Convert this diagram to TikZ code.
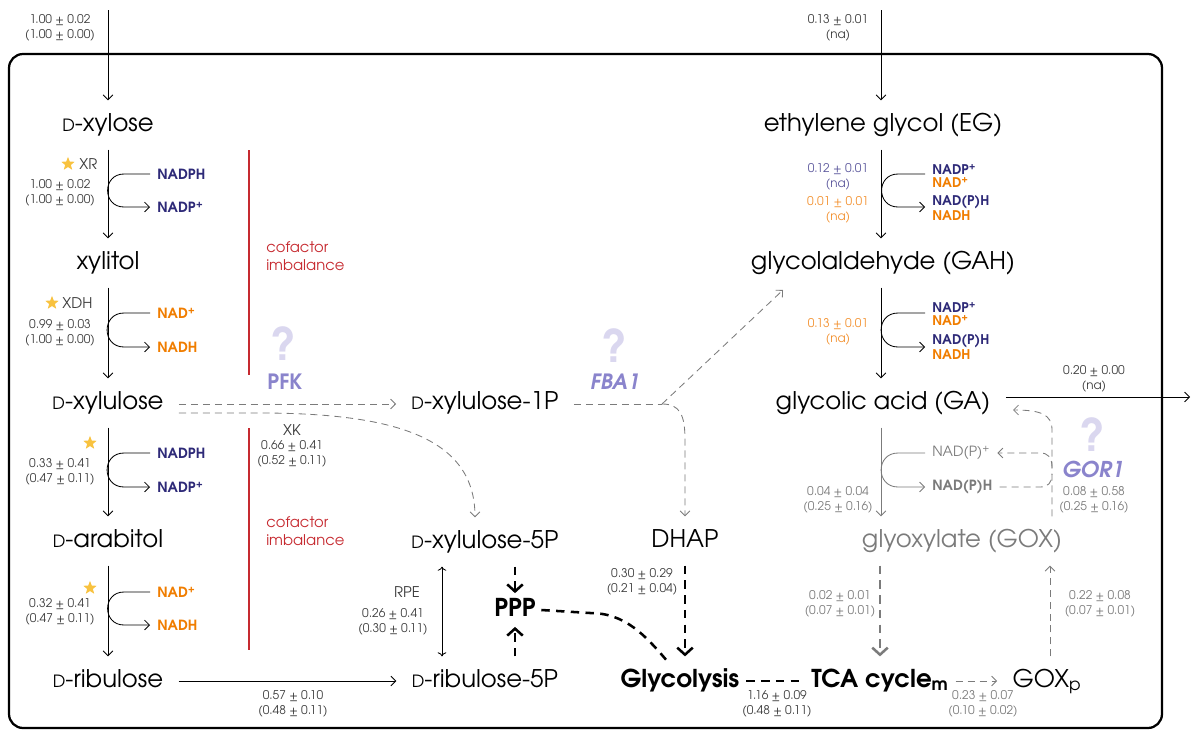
\documentclass[tikz,border=0pt]{standalone}
\usepackage{fontspec}
\setmainfont{TeX Gyre Adventor}
\usetikzlibrary{arrows.meta,shapes.geometric,calc}

\definecolor{navyc}{HTML}{2E2A78}
\definecolor{orangec}{HTML}{F07D00}
\definecolor{redc}{HTML}{C62A30}
\definecolor{lavc}{HTML}{8A84CC}
\definecolor{lavlight}{HTML}{DAD7EF}
\definecolor{starc}{HTML}{F8C23F}
\definecolor{grayc}{HTML}{7B7B7B}
\definecolor{valc}{HTML}{3C3C3C}
\definecolor{purpval}{HTML}{5B579C}
\definecolor{orangeval}{HTML}{F2902E}

\newcommand{\dsc}{{\fontsize{12}{12}\selectfont D}}

\tikzset{
  metab/.style={font=\fontsize{17.3}{17.3}\selectfont, inner sep=0pt, outer xsep=11pt, outer ysep=9.5pt, text height=12.5pt, text depth=3.5pt},
  pathway/.style={metab, font=\fontsize{17.5}{17.5}\selectfont\bfseries, outer xsep=5pt},
  flux/.style={font=\fontsize{8.5}{10.5}\selectfont, align=center, text=valc, inner sep=0pt},
  cof/.style={font=\fontsize{10}{8.7}\selectfont\bfseries, anchor=west, align=left, inner xsep=5pt, inner ysep=0pt},
  cofpair/.style={cof, font=\fontsize{9.5}{9.4}\selectfont\bfseries},
  enz/.style={font=\fontsize{10.5}{10.5}\selectfont, text=valc, inner sep=0pt},
  qmark/.style={font=\fontsize{32}{32}\selectfont\bfseries, text=lavlight, inner sep=0pt},
  unk/.style={font=\fontsize{15}{15}\selectfont\bfseries, text=lavc, inner sep=0pt},
  redlab/.style={font=\fontsize{10.5}{12.5}\selectfont, text=redc, align=left, anchor=west, inner sep=0pt},
  flow/.style={line width=0.6pt, -{Straight Barb[length=3.5pt,width=7pt]}},
  thindash/.style={flow, grayc, dash pattern=on 5pt off 3.5pt},
  thickdash/.style={line width=1.8pt, dash pattern=on 6pt off 4.5pt, -{Straight Barb[length=5pt,width=11pt]}},
  star5/.style={star, star points=5, star point ratio=2.3, fill=starc, inner sep=0pt, minimum size=10pt},
}

\begin{document}
\begin{tikzpicture}[x=0.025cm, y=-0.025cm]

    \useasboundingbox (0,0) rectangle (1192,731);

    % frame
    \draw[line width=1.6pt, rounded corners=10pt] (9,54) rectangle (1162,728);

    % Metabolites
    \node[metab] (xyl) at (108,125) {\dsc-xylose};
    \node[metab] (xol) at (108,263) {xylitol};
    \node[metab] (xlu) at (108,403) {\dsc-xylulose};
    \node[metab] (ara) at (108,541) {\dsc-arabitol};
    \node[metab] (rib) at (108,681) {\dsc-ribulose};

    \node[metab] (x1p) at (485,403) {\dsc-xylulose-1P};
    \node[metab] (x5p) at (485,542) {\dsc-xylulose-5P};
    \node[metab] (r5p) at (485,681) {\dsc-ribulose-5P};
    \node[metab] (dhap) at (685,541) {DHAP};

    \node[metab] (eg) at (883,125) {ethylene glycol (EG)};
    \node[metab] (gah) at (883,263) {glycolaldehyde (GAH)};
    \node[metab] (ga) at (883,403) {glycolic acid (GA)};
    \node[metab, text=grayc] (gox) at (962,541) {glyoxylate (GOX)};
    \node[metab] (goxp) at (1047,681) {GOX\textsubscript{p}};

    \node[pathway, outer sep=4pt] (ppp) at (515,610) {PPP};
    \node[pathway] (glyc) at (680,681) {Glycolysis};
    \node[pathway] (tca) at (880,681) {TCA cycle\textsubscript{m}};

    % Cofactors
    \node[cof, text=navyc] (xrIn) at (150,174) {NADPH};
    \node[cof, text=navyc] (xrOut) at (150,207) {NADP\textsuperscript{+}};
    \node[cof, text=orangec] (xdhIn) at (150,313) {NAD\textsuperscript{+}};
    \node[cof, text=orangec] (xdhOut) at (150,347) {NADH};
    \node[cof, text=navyc] (arIn) at (150,453) {NADPH};
    \node[cof, text=navyc] (arOut) at (150,487) {NADP\textsuperscript{+}};
    \node[cof, text=orangec] (adhIn) at (150,592) {NAD\textsuperscript{+}};
    \node[cof, text=orangec] (adhOut) at (150,625) {NADH};

    \node[cofpair] (egIn) at (925,176) {\textcolor{navyc}{NADP\textsuperscript{+}}\\\textcolor{orangec}{NAD\textsuperscript{+}}};
    \node[cofpair] (egOut) at (925,208) {\textcolor{navyc}{NAD(P)H}\\\textcolor{orangec}{NADH}};
    \node[cofpair] (gahIn) at (925,314) {\textcolor{navyc}{NADP\textsuperscript{+}}\\\textcolor{orangec}{NAD\textsuperscript{+}}};
    \node[cofpair] (gahOut) at (925,347) {\textcolor{navyc}{NAD(P)H}\\\textcolor{orangec}{NADH}};
    \node[cof, text=grayc, font=\fontsize{10}{10}\selectfont] (gaIn) at (925,453) {NAD(P)\textsuperscript{+}};
    \node[cof, text=grayc] (gaOut) at (925,487) {NAD(P)H};

    % Enzymes
    \node[star5] (s1) at (68,164) {};
    \node[enz, anchor=west] (xr) at (79,164) {XR};
    \node[star5] (s2) at (52,303) {};
    \node[enz, anchor=west] (xdh) at (62,303) {XDH};
    \node[star5] (s3) at (90,443) {};
    \node[star5] (s4) at (90,588) {};
    \node[enz] (xk) at (292,430) {XK};
    \node[enz] (rpe) at (407,592) {RPE};

    \node[qmark] (q1) at (284,344) {?};
    \node[unk] (pfk) at (285,382) {PFK};
    \node[qmark] (q2) at (615,346) {?};
    \node[unk, font=\fontsize{15}{15}\selectfont\bfseries\itshape] (fba) at (615,382) {FBA1};
    \node[qmark] (q3) at (1093,435) {?};
    \node[unk, font=\fontsize{15.5}{15.5}\selectfont\bfseries\itshape] (gor) at (1093,469) {GOR1};

    \node[redlab] (ci1) at (266,256) {cofactor\\imbalance};
    \node[redlab] (ci2) at (266,531) {cofactor\\imbalance};

    % Fluxes
    \node[flux] at (60,28) {1.00 ± 0.02\\(1.00 ± 0.00)};
    \node[flux] at (60,193) {1.00 ± 0.02\\(1.00 ± 0.00)};
    \node[flux] at (60,333) {0.99 ± 0.03\\(1.00 ± 0.00)};
    \node[flux] at (60,472) {0.33 ± 0.41\\(0.47 ± 0.11)};
    \node[flux] at (60,612) {0.32 ± 0.41\\(0.47 ± 0.11)};
    \node[flux] at (292,454) {0.66 ± 0.41\\(0.52 ± 0.11)};
    \node[flux] at (393,622) {0.26 ± 0.41\\(0.30 ± 0.11)};
    \node[flux] at (293,704) {0.57 ± 0.10\\(0.48 ± 0.11)};
    \node[flux] at (642,582) {0.30 ± 0.29\\(0.21 ± 0.04)};
    \node[flux] at (777,704) {1.16 ± 0.09\\(0.48 ± 0.11)};
    \node[flux, text=grayc] at (983,704) {0.23 ± 0.07\\(0.10 ± 0.02)};
    \node[flux, text=grayc] at (840,604) {0.02 ± 0.01\\(0.07 ± 0.01)};
    \node[flux, text=grayc] at (1100,604) {0.22 ± 0.08\\(0.07 ± 0.01)};
    \node[flux] at (838,28) {0.13 ± 0.01\\(na)};
    \node[flux, text=purpval] at (838,177) {0.12 ± 0.01\\(na)};
    \node[flux, text=orangeval] at (838,210) {0.01 ± 0.01\\(na)};
    \node[flux, text=orangeval] at (838,332) {0.13 ± 0.01\\(na)};
    \node[flux] at (1094,379) {0.20 ± 0.00\\(na)};
    \node[flux, text=grayc] at (838,500) {0.04 ± 0.04\\(0.25 ± 0.16)};
    \node[flux, text=grayc] at (1094,500) {0.08 ± 0.58\\(0.25 ± 0.16)};

    % Free ends
    \coordinate (xylIn) at (108,10);
    \coordinate (egIn0) at (881,10);
    \coordinate (gaExit) at (1190,397);
    \coordinate (fork) at (662,404);
    \coordinate (gahEnd) at (783,290);

    % EDGE
    \draw[flow] (xylIn) -- (xyl.north -| xylIn);
    \draw[flow] (xyl) -- (xol);
    \draw[flow] (xol) -- (xlu);
    \draw[flow] (xlu) -- (ara);
    \draw[flow] (ara) -- (rib);
    \draw[flow] (rib) -- (r5p);

    \draw[flow] (egIn0) -- (eg.north -| egIn0);
    \draw[flow] (eg.south -| egIn0) -- (gah.north -| egIn0);
    \draw[flow] (gah.south -| egIn0) -- (ga.north -| egIn0);
    \draw[flow, grayc] (ga.south -| egIn0) -- (gox.north -| egIn0);
    \draw[flow] ($(ga.east)+(0,-6)$) -- (gaExit);

    % cofactor curves
    \draw[flow] (xrIn.west) -- ++(-26,0) to[out=180,in=180,looseness=1.7] ($(xrOut.west)+(-26,0)$) -- (xrOut.west);
    \draw[flow] (xdhIn.west) -- ++(-26,0) to[out=180,in=180,looseness=1.7] ($(xdhOut.west)+(-26,0)$) -- (xdhOut.west);
    \draw[flow] (arIn.west) -- ++(-26,0) to[out=180,in=180,looseness=1.7] ($(arOut.west)+(-26,0)$) -- (arOut.west);
    \draw[flow] (adhIn.west) -- ++(-26,0) to[out=180,in=180,looseness=1.7] ($(adhOut.west)+(-26,0)$) -- (adhOut.west);
    \draw[flow] ($(egIn.west)+(0,-2)$) -- ++(-27,0) to[out=180,in=180,looseness=1.7] ($(egOut.west)+(-27,-1)$) -- ($(egOut.west)+(0,-1)$);
    \draw[flow] ($(gahIn.west)+(0,-1)$) -- ++(-27,0) to[out=180,in=180,looseness=1.7] ($(gahOut.west)+(-27,0)$) -- (gahOut.west);
    \draw[flow, grayc] (gaIn.west) -- ++(-27,0) to[out=180,in=180,looseness=1.7] ($(gaOut.west)+(-27,0)$) -- (gaOut.west);

    % dashed routes
    \draw[thindash] ($(xlu.east)+(0,1)$) -- ($(x1p.west)+(0,1)$);
    \draw[thindash] ($(xlu.east)+(0,10)$) -- (260,413) .. controls (400,413) and (475,440) .. ($(x5p.north)+(-10,0)$);
    \draw[thindash, -] ($(x1p.east)+(0,1)$) -- (fork);
    \draw[thindash] (fork) -- (gahEnd);
    \draw[thindash] (fork) .. controls (680,404) and (685,415) .. (685,440) -- (dhap.north);

    \draw[flow, <->] ($(x5p.south)+(-43,0)$) -- ($(r5p.north)+(-43,0)$);
    \draw[thickdash] (x5p.south -| ppp) -- (ppp.north);
    \draw[thickdash] (r5p.north -| ppp) -- (ppp.south);
    \draw[thickdash, -] (ppp.east) -- (590,613) .. controls (625,613) and (645,635) .. (668,662);
    \draw[thickdash] (dhap.south) -- (dhap.south |- glyc.north);
    \draw[thickdash, -] (glyc.east) -- (tca.west);
    \draw[thickdash, grayc] (gox.south -| 880,0) -- (tca.north -| 880,0);
    \draw[thindash] (tca.east) -- (goxp.west);
    \draw[thindash] (goxp.north -| 1050,0) -- (gox.south -| 1050,0);

    % GOR1 route
    \draw[thindash] (gox.north -| 1052,0) -- (1052,430) .. controls (1052,414) and (1040,410) .. (1013,410);
    \draw[thindash] (1052,468) .. controls (1052,457) and (1048,453) .. (1040,453) -- (gaIn.east);
    \draw[thindash, -] (gaOut.east) -- (1040,487) .. controls (1048,487) and (1052,483) .. (1052,474);

    % cofactor imbalance
    \draw[redc, line width=1.2pt] (249,150) -- (249,375);
    \draw[redc, line width=1.2pt] (249,428) -- (249,650);

\end{tikzpicture}
\end{document}
